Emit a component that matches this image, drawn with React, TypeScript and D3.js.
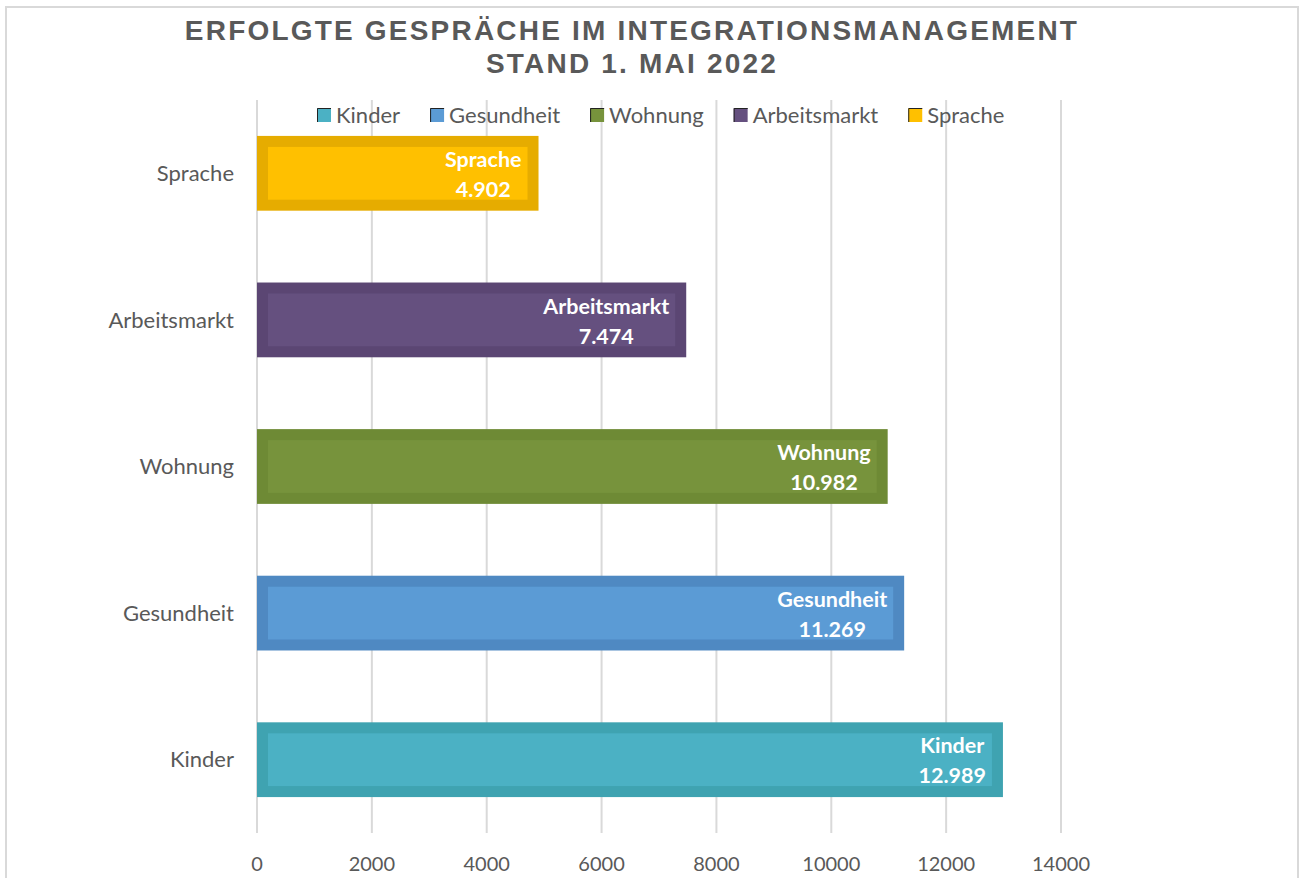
import React, { useEffect, useRef } from "react";
import * as d3 from "d3";

const categories = ["Sprache", "Arbeitsmarkt", "Wohnung", "Gesundheit", "Kinder"];
const values = [4902, 7474, 10982, 11269, 12989];
const innerColors = ["#FFC000", "#65507F", "#77933C", "#5B9BD5", "#4BB1C4"];
const outerColors = ["#E6AC00", "#5B4673", "#6E8A35", "#4F89C2", "#3FA3B1"];
const legendOrder = ["Kinder", "Gesundheit", "Wohnung", "Arbeitsmarkt", "Sprache"];
const xTicks = [0, 2000, 4000, 6000, 8000, 10000, 12000, 14000];
const titleLines = ["ERFOLGTE GESPRÄCHE IM INTEGRATIONSMANAGEMENT", "STAND 1. MAI 2022"];

const W = 1304;
const H = 878;
const FONT = "Lato, 'Open Sans', sans-serif";
const GRAY = "#595959";

export default function App() {
  const ref = useRef<SVGSVGElement | null>(null);

  useEffect(() => {
    const svg = d3.select(ref.current);
    svg.selectAll("*").remove();

    // chart border
    svg.append("rect").attr("x", 6).attr("y", 7).attr("width", 1292).attr("height", 900)
      .attr("fill", "#fff").attr("stroke", "#D9D9D9").attr("stroke-width", 2);

    const x = d3.scaleLinear().domain([0, 14000]).range([257, 1061]);
    const y = d3.scaleBand().domain(categories).range([100, 833]).paddingInner(0.49).paddingOuter(0.245);

    // gridlines
    svg.append("g").selectAll("line").data(xTicks).join("line")
      .attr("x1", d => x(d)).attr("x2", d => x(d))
      .attr("y1", 100).attr("y2", 833)
      .attr("stroke", "#D9D9D9").attr("stroke-width", 2);

    // tick labels
    svg.append("g").selectAll("text").data(xTicks).join("text")
      .attr("x", d => x(d)).attr("y", 871)
      .attr("text-anchor", "middle")
      .attr("font-family", FONT).attr("font-size", 20).attr("fill", GRAY)
      .text(d => String(d));

    // category labels
    svg.append("g").selectAll("text").data(categories).join("text")
      .attr("x", 234).attr("y", d => (y(d) as number) + y.bandwidth() / 2)
      .attr("dy", "0.35em").attr("text-anchor", "end")
      .attr("font-family", FONT).attr("font-size", 22).attr("fill", GRAY)
      .text(d => d);

    // bars
    const inset = 11;
    const bars = svg.append("g").selectAll("g").data(categories).join("g");
    bars.append("rect")
      .attr("x", x(0)).attr("y", d => y(d) as number)
      .attr("width", (d, i) => x(values[i]) - x(0)).attr("height", y.bandwidth())
      .attr("fill", (d, i) => outerColors[i]);
    bars.append("rect")
      .attr("x", x(0) + inset).attr("y", d => (y(d) as number) + inset)
      .attr("width", (d, i) => x(values[i]) - x(0) - 2 * inset).attr("height", y.bandwidth() - 2 * inset)
      .attr("fill", (d, i) => innerColors[i]);

    // data labels
    const fmt = (v: number) => d3.format(",")(v).replace(/,/g, ".");
    bars.each(function (d, i) {
      const g = d3.select(this);
      const top = y(d) as number;
      const t1 = g.append("text").attr("font-family", FONT).attr("font-weight", 700)
        .attr("font-size", 21.5).attr("fill", "#fff").attr("text-anchor", "middle").text(d);
      const t2 = g.append("text").attr("font-family", FONT).attr("font-weight", 700)
        .attr("font-size", 21.5).attr("fill", "#fff").attr("text-anchor", "middle").text(fmt(values[i]));
      const w1 = (t1.node() as SVGTextElement).getComputedTextLength();
      const w2 = (t2.node() as SVGTextElement).getComputedTextLength();
      const cx = x(values[i]) - 17 - Math.max(w1, w2) / 2;
      t1.attr("x", cx).attr("y", top + 31);
      t2.attr("x", cx).attr("y", top + 61);
    });

    // title
    titleLines.forEach((line, i) => {
      svg.append("text").attr("x", 632).attr("y", 40 + i * 33)
        .attr("text-anchor", "middle")
        .attr("font-family", "'Liberation Sans', Arial, sans-serif")
        .attr("font-weight", 700).attr("font-size", 28).attr("fill", GRAY)
        .attr("letter-spacing", 2.2)
        .text(line);
    });

    // legend
    const lg = svg.append("g");
    let lx = 317;
    legendOrder.forEach((name) => {
      const idx = categories.indexOf(name);
      lg.append("rect").attr("x", lx).attr("y", 108).attr("width", 14).attr("height", 14)
        .attr("fill", innerColors[idx]);
      lg.append("path").attr("d", `M${lx + 0.5},${122}V${108.5}H${lx + 14}`)
        .attr("fill", "none").attr("stroke", "#222").attr("stroke-width", 1);
      const t = lg.append("text").attr("x", lx + 19).attr("y", 115).attr("dy", "0.35em")
        .attr("font-family", FONT).attr("font-size", 22).attr("fill", GRAY).text(name);
      const w = (t.node() as SVGTextElement).getComputedTextLength();
      lx += 19 + w + 30;
    });
  }, []);

  return <svg ref={ref} width={W} height={H} style={{ display: "block", position: "absolute", left: 0, top: 0 }} />;
}
